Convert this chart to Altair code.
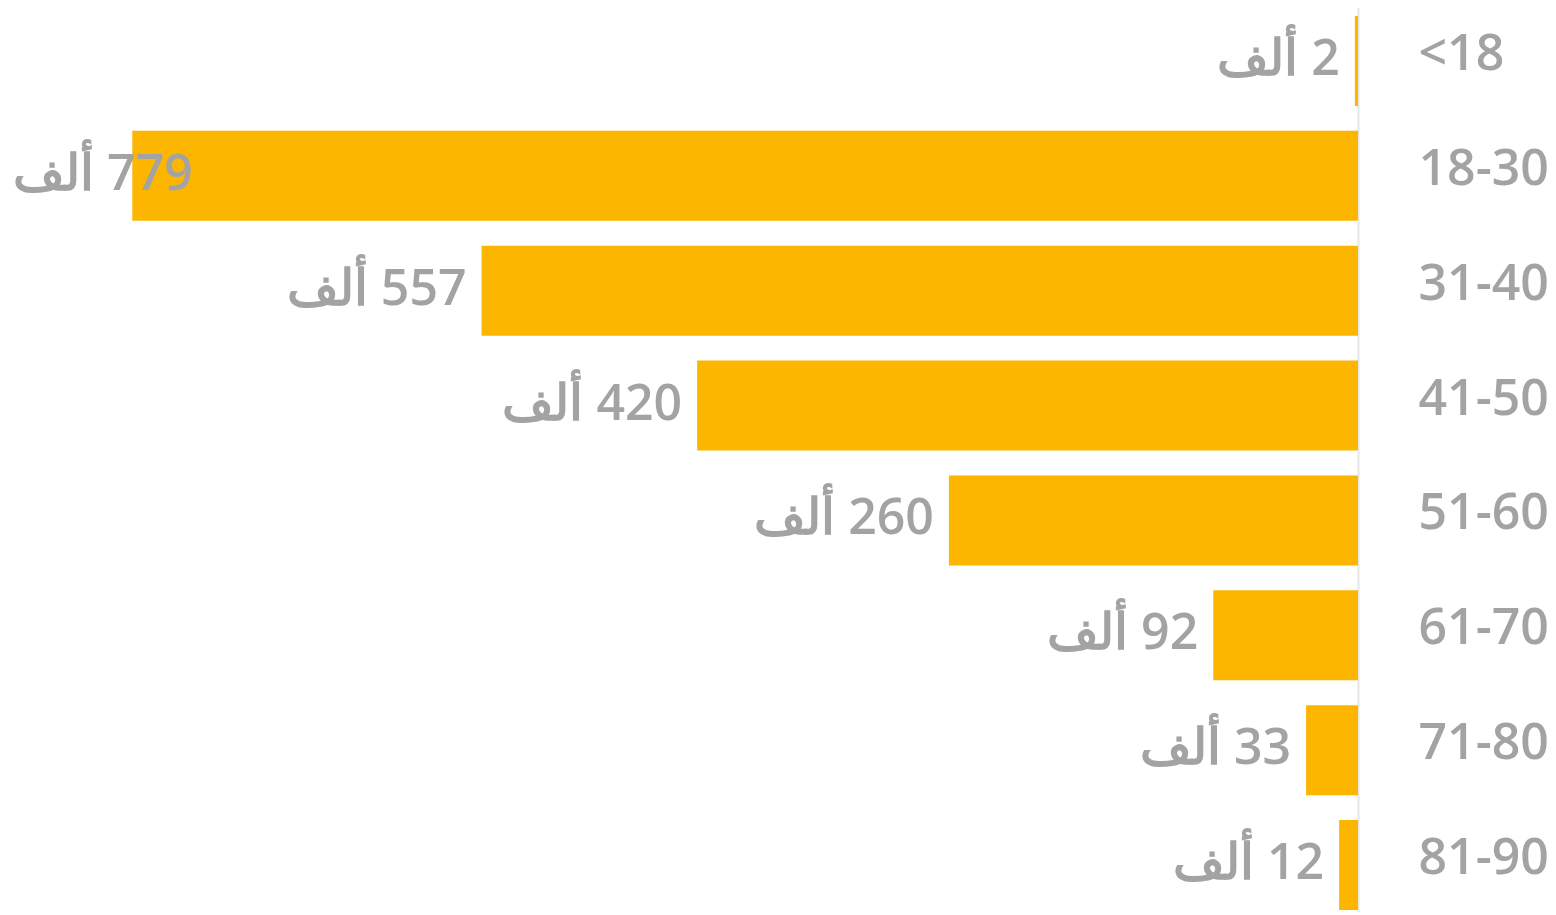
import altair as alt
import pandas as pd

categories = ["<18", "18-30", "31-40", "41-50", "51-60", "61-70", "71-80", "81-90"]
values = [2, 779, 557, 420, 260, 92, 33, 12]
unit = " ألف"

df = pd.DataFrame({"age": categories, "value": values})
df["label"] = ["\u200f" + str(v) + unit for v in values]

GRAY = "#A3A3A3"
BAR = "#FDB600"

y_scale = alt.Scale(paddingInner=0.2165, paddingOuter=0.1045, range=[-4, 914])

y_enc = alt.Y(
    "age:N",
    sort=categories,
    scale=y_scale,
    axis=alt.Axis(
        orient="right",
        title=None,
        ticks=False,
        labelPadding=60,
        labelAlign="left",
        labelOffset=-6,
        labelFont="Open Sans",
        labelFontSize=50,
        labelFontWeight=600,
        labelColor=GRAY,
        domainColor="#E6E6E6",
        domainWidth=2,
        grid=False,
    ),
)

x_scale = alt.Scale(domain=[0, 858], reverse=True, nice=False)

bars = alt.Chart(df).mark_bar(color=BAR).encode(
    x=alt.X("value:Q", scale=x_scale, axis=None),
    y=y_enc,
)

labels = alt.Chart(df).transform_calculate(
    pos="min(datum.value, 731)"
).mark_text(
    align="right",
    baseline="middle",
    dx=-15,
    dy=-1,
    font="Open Sans",
    fontSize=50,
    fontWeight=600,
    color=GRAY,
).encode(
    x=alt.X("pos:Q", scale=x_scale, axis=None),
    y=alt.Y("age:N", sort=categories),
    text="label:N",
)

chart = (bars + labels).properties(
    width=1350,
    height=904,
    autosize=alt.AutoSizeParams(type="none"),
    padding={"left": 0, "right": 190, "top": 0, "bottom": 0},
).configure_view(stroke=None)

chart.save("out.html", embed_options={"renderer": "svg", "actions": False})
